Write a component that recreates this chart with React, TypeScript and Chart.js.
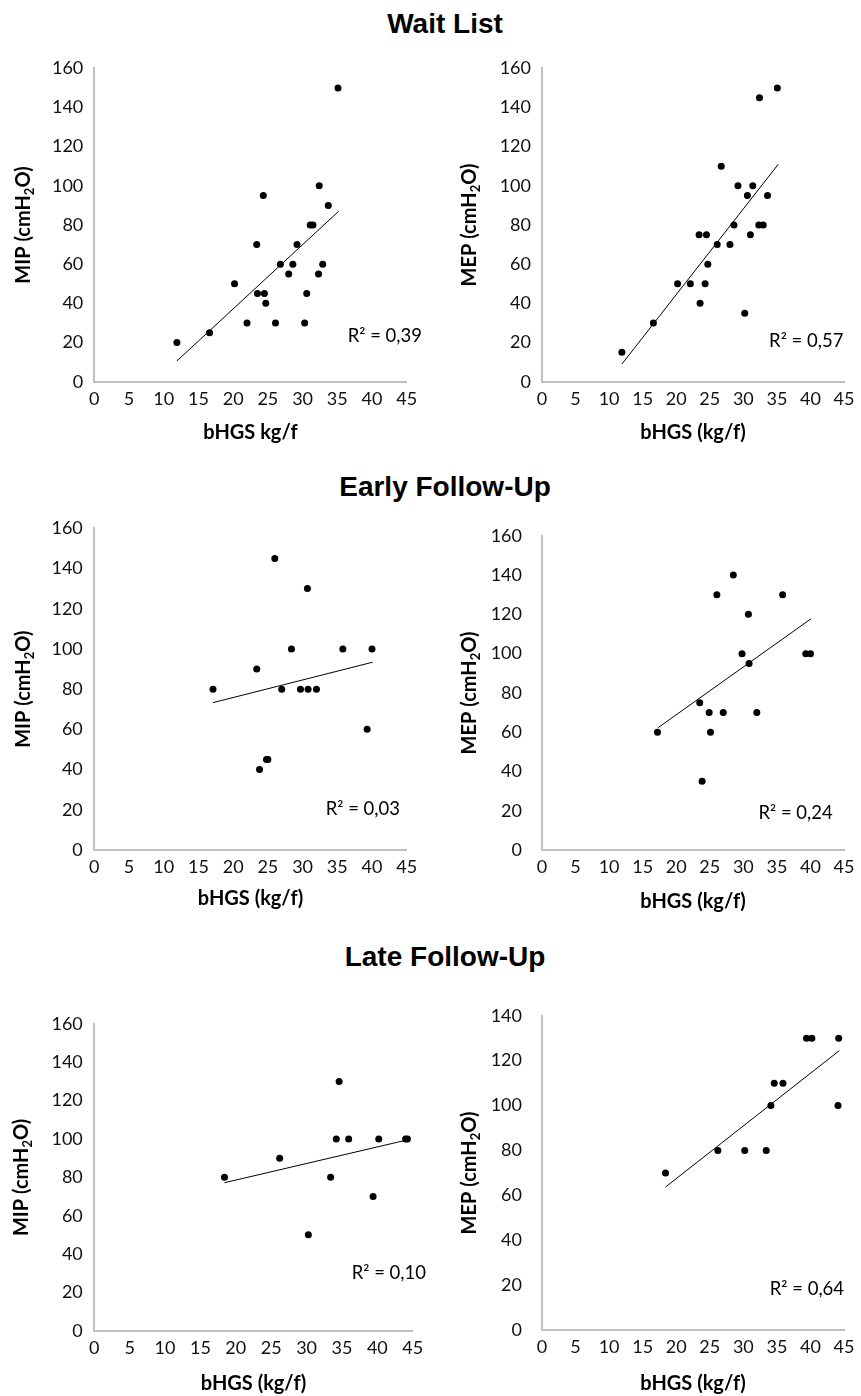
import React, { useEffect, useRef } from 'react';
import { Chart, registerables } from 'chart.js';

Chart.register(...registerables);

// ---------- data ----------
const xTickStep = 5;
const xMax = 45;

// Wait List
const wlMipX = [11.9, 16.6, 20.2, 22.0, 23.4, 23.5, 24.35, 24.5, 24.7, 26.1, 26.8, 28.0, 28.6, 29.2, 30.3, 30.6, 31.1, 31.5, 32.3, 32.4, 32.9, 33.7, 35.1];
const wlMipY = [20, 25, 50, 30, 70, 45, 95, 45, 40, 30, 60, 55, 60, 70, 30, 45, 80, 80, 55, 100, 60, 90, 150];
const wlMipTrendX = [11.9, 35.2];
const wlMipTrendY = [10.6, 87.0];

const wlMepX = [11.9, 16.6, 20.2, 22.1, 23.4, 23.55, 24.5, 24.3, 24.7, 26.1, 26.7, 28.0, 28.6, 29.2, 30.2, 30.6, 31.05, 31.4, 32.3, 32.4, 32.96, 33.6, 35.06];
const wlMepY = [15, 30, 50, 50, 75, 40, 75, 50, 60, 70, 110, 70, 80, 100, 35, 95, 75, 100, 80, 145, 80, 95, 150];
const wlMepTrendX = [11.9, 35.2];
const wlMepTrendY = [9.0, 111.0];

// Early Follow-Up
const efMipX = [17.1, 23.4, 23.8, 24.8, 25.0, 26.0, 27.0, 28.4, 29.7, 30.7, 30.8, 32.0, 35.8, 39.3, 40.0];
const efMipY = [80, 90, 40, 45, 45, 145, 80, 100, 80, 130, 80, 80, 100, 60, 100];
const efMipTrendX = [17.1, 40.1];
const efMipTrendY = [73.3, 93.4];

const efMepX = [17.2, 23.5, 23.85, 24.9, 25.1, 26.05, 27.0, 28.5, 29.8, 30.75, 30.85, 32.0, 35.85, 39.3, 40.0];
const efMepY = [60, 75, 35, 70, 60, 130, 70, 140, 100, 120, 95, 70, 130, 100, 100];
const efMepTrendX = [17.3, 40.1];
const efMepTrendY = [62.3, 117.8];

// Late Follow-Up
const lfMipX = [18.4, 26.2, 30.25, 33.4, 34.2, 34.6, 35.95, 39.4, 40.2, 44.0, 44.25];
const lfMipY = [80, 90, 50, 80, 100, 130, 100, 70, 100, 100, 100];
const lfMipTrendX = [18.4, 44.2];
const lfMipTrendY = [77.2, 99.5];

const lfMepX = [18.4, 26.2, 30.2, 33.4, 34.1, 34.6, 35.9, 39.4, 40.2, 44.1, 44.2];
const lfMepY = [70, 80, 80, 80, 100, 110, 110, 130, 130, 100, 130];
const lfMepTrendX = [18.4, 44.3];
const lfMepTrendY = [63.7, 124.5];

const groupTitles = ['Wait List', 'Early Follow-Up', 'Late Follow-Up'];
const r2Labels = ['R² = 0,39', 'R² = 0,57', 'R² = 0,03', 'R² = 0,24', 'R² = 0,10', 'R² = 0,64'];
const yMaxes = [160, 160, 160, 160, 160, 140];
const yTitlePre = ['MIP (cmH', 'MEP (cmH', 'MIP (cmH', 'MEP (cmH', 'MIP (cmH', 'MEP (cmH'];
const yTitleSub = '2';
const yTitleSuf = 'O)';
const xTitles = ['bHGS kg/f', 'bHGS (kg/f)', 'bHGS (kg/f)', 'bHGS (kg/f)', 'bHGS (kg/f)', 'bHGS (kg/f)'];

// ---------- layout (page pixels) ----------
type Panel = {
  xs: number[]; ys: number[]; tx: number[]; ty: number[];
  idx: number;
  box: [number, number, number, number]; // left, top, width, height
  plot: [number, number, number, number]; // left, top, right, bottom
  yTickPad: number; xTitleOff: number; yTitleX: number; r2dx: number; r2dy: number;
};

const panels: Panel[] = [
  { xs: wlMipX, ys: wlMipY, tx: wlMipTrendX, ty: wlMipTrendY, idx: 0,
    box: [0, 45, 430, 410], plot: [94.3, 68.3, 406.7, 381.7], yTickPad: 11, xTitleOff: 51, yTitleX: 29.5, r2dx: 15.3, r2dy: 45.7 },
  { xs: wlMepX, ys: wlMepY, tx: wlMepTrendX, ty: wlMepTrendY, idx: 1,
    box: [430, 45, 431, 410], plot: [542, 68.3, 848.3, 381.7], yTickPad: 11, xTitleOff: 51, yTitleX: 476, r2dx: -0.6, r2dy: 40.7 },
  { xs: efMipX, ys: efMipY, tx: efMipTrendX, ty: efMipTrendY, idx: 2,
    box: [0, 505, 430, 410], plot: [94.3, 528.3, 406.7, 850], yTickPad: 11.5, xTitleOff: 49, yTitleX: 29.5, r2dx: -6.7, r2dy: 41 },
  { xs: efMepX, ys: efMepY, tx: efMepTrendX, ty: efMepTrendY, idx: 3,
    box: [430, 505, 431, 410], plot: [542, 534, 848.3, 850], yTickPad: 20, xTitleOff: 52, yTitleX: 476, r2dx: -11.3, r2dy: 37 },
  { xs: lfMipX, ys: lfMipY, tx: lfMipTrendX, ty: lfMipTrendY, idx: 4,
    box: [0, 985, 430, 411], plot: [94.3, 1024, 412.7, 1330.7], yTickPad: 11.5, xTitleOff: 53, yTitleX: 28, r2dx: 13.3, r2dy: 57.7 },
  { xs: lfMepX, ys: lfMepY, tx: lfMepTrendX, ty: lfMepTrendY, idx: 5,
    box: [430, 985, 431, 411], plot: [542, 1005.7, 850.7, 1330], yTickPad: 20, xTitleOff: 54, yTitleX: 476, r2dx: 0, r2dy: 41 },
];

const titleBaselines = [33.3, 496.7, 966.7];
const titleCenterX = 445;

const textPlugin = {
  id: 'panelText',
  afterDraw(chart: any, _args: any, o: any) {
    const { ctx, chartArea } = chart;
    ctx.save();
    ctx.fillStyle = '#000';
    ctx.translate(o.yTitleX, (chartArea.top + chartArea.bottom) / 2);
    ctx.rotate(-Math.PI / 2);
    ctx.textBaseline = 'alphabetic';
    ctx.textAlign = 'left';
    const big = 'bold 20px Lato';
    const small = 'bold 13px Lato';
    ctx.font = big;
    const w1 = ctx.measureText(o.pre).width;
    const w3 = ctx.measureText(o.suf).width;
    ctx.font = small;
    const w2 = ctx.measureText(o.sub).width;
    let x = -(w1 + w2 + w3) / 2;
    ctx.font = big; ctx.fillText(o.pre, x, 0); x += w1;
    ctx.font = small; ctx.fillText(o.sub, x, 4); x += w2;
    ctx.font = big; ctx.fillText(o.suf, x, 0);
    ctx.restore();

    ctx.save();
    ctx.fillStyle = '#000';
    ctx.font = '18.5px Lato';
    ctx.textAlign = 'right';
    ctx.textBaseline = 'middle';
    ctx.fillText(o.r2, chartArea.right + o.r2dx, chartArea.bottom - o.r2dy);
    ctx.restore();
  },
};

function ScatterPanel({ p }: { p: Panel }) {
  const ref = useRef<HTMLCanvasElement | null>(null);
  useEffect(() => {
    if (!ref.current) return;
    const [bl, bt, bw, bh] = p.box;
    const [pl, pt, pr, pb] = p.plot;
    const yAxisW = pl - bl;
    const xAxisH = bt + bh - pb;
    const xTitleLine = 24;
    const xTitlePadBottom = Math.max(0, xAxisH - p.xTitleOff - xTitleLine / 2);
    const pts = p.xs.map((x, i) => ({ x, y: p.ys[i] }));
    const trend = p.tx.map((x, i) => ({ x, y: p.ty[i] }));
    const chart = new Chart(ref.current, {
      type: 'scatter',
      data: {
        datasets: [
          {
            data: trend,
            showLine: true,
            borderColor: '#000',
            borderWidth: 1,
            pointRadius: 0,
            fill: false,
          } as any,
          {
            data: pts,
            pointRadius: 3.5,
            pointBackgroundColor: '#000',
            pointBorderWidth: 0,
            pointBorderColor: '#000',
          },
        ],
      },
      options: {
        responsive: false,
        animation: false,
        devicePixelRatio: 1,
        layout: { padding: { left: 0, top: pt - bt, right: bl + bw - pr, bottom: 0 } },
        plugins: {
          legend: { display: false },
          tooltip: { enabled: false },
          panelText: {
            pre: yTitlePre[p.idx], sub: yTitleSub, suf: yTitleSuf,
            yTitleX: p.yTitleX - bl, r2: r2Labels[p.idx], r2dx: p.r2dx, r2dy: p.r2dy,
          },
        } as any,
        scales: {
          x: {
            type: 'linear',
            min: 0,
            max: xMax,
            grid: { display: false, drawTicks: false },
            border: { display: true, color: '#c0c0c0', width: 2 },
            ticks: { stepSize: xTickStep, padding: 6.5, color: '#111', font: { family: 'Lato', size: 18 } },
            title: {
              display: true,
              text: xTitles[p.idx],
              color: '#000',
              font: { family: 'Lato', size: 20, weight: 'bold' },
              padding: { top: 0, bottom: xTitlePadBottom },
            },
            afterFit: (s: any) => { s.height = xAxisH; },
          },
          y: {
            type: 'linear',
            min: 0,
            max: yMaxes[p.idx],
            grid: { display: false, drawTicks: false },
            border: { display: true, color: '#c0c0c0', width: 2 },
            ticks: { stepSize: 20, padding: p.yTickPad, color: '#111', font: { family: 'Lato', size: 18 } },
            afterFit: (s: any) => { s.width = yAxisW; },
          },
        },
      },
      plugins: [textPlugin],
    });
    return () => chart.destroy();
  }, [p]);
  const [bl, bt, bw, bh] = p.box;
  return (
    <canvas
      ref={ref}
      width={bw}
      height={bh}
      style={{ position: 'absolute', left: bl, top: bt, width: bw, height: bh }}
    />
  );
}

export default function App() {
  return (
    <div style={{ position: 'absolute', left: 0, top: 0, width: 861, height: 1396, background: '#fff' }}>
      {groupTitles.map((t, i) => (
        <div
          key={t}
          style={{
            position: 'absolute',
            left: titleCenterX - 300,
            width: 600,
            top: titleBaselines[i] - 23.7,
            textAlign: 'center',
            font: 'bold 28px "Liberation Sans", Arial, sans-serif',
            lineHeight: '28px',
            color: '#000',
          }}
        >
          {t}
        </div>
      ))}
      {panels.map((p) => (
        <ScatterPanel key={p.idx} p={p} />
      ))}
    </div>
  );
}
